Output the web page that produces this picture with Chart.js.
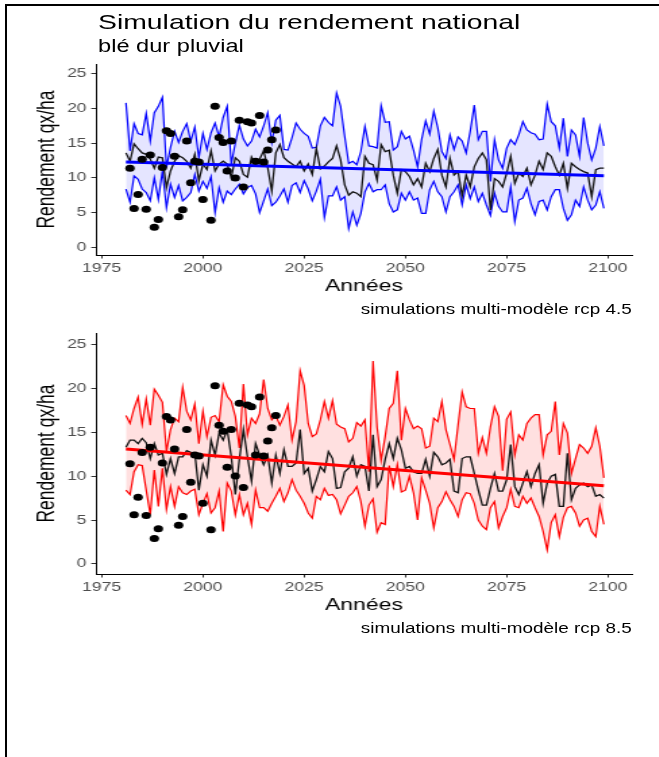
<!DOCTYPE html>
<html lang="fr">
<head>
<meta charset="utf-8">
<title>Simulation du rendement national</title>
<script src="https://cdn.jsdelivr.net/npm/chart.js@4.4.1/dist/chart.umd.min.js"></script>
<style>
  html, body { margin: 0; padding: 0; background: #fff; }
  body { width: 659px; height: 757px; overflow: hidden; position: relative; font-family: "Liberation Sans", Arial, sans-serif; }
  #frame { position: absolute; left: 5px; top: 4px; width: 700px; height: 800px; border-left: 2px solid #000; border-top: 2px solid #000; }
  /* the reference is stretched sideways, so the whole page is drawn narrow and widened */
  #page { position: absolute; left: 0; top: 0; width: 488px; height: 757px; transform: scaleX(1.35); transform-origin: 0 0; }
  .txt { position: absolute; white-space: nowrap; line-height: 1; color: #000; }
  canvas { position: absolute; left: 0; }
</style>
</head>
<body>
<div id="frame"></div>
<div id="page">
  <div class="txt" style="left:72.6px; top:11px; font-size:21px;">Simulation du rendement national</div>
  <div class="txt" style="left:72.6px; top:38px; font-size:17.5px;">blé dur pluvial</div>
  <canvas id="rcp45" width="488" height="247" style="top:50px"></canvas>
  <div class="txt" style="right:20px; top:302px; font-size:14px;">simulations multi-modèle rcp 4.5</div>
  <canvas id="rcp85" width="488" height="297" style="top:319px"></canvas>
  <div class="txt" style="right:20px; top:621px; font-size:14px;">simulations multi-modèle rcp 8.5</div>
</div>
<script>
// axes
const xTicks = [1975, 2000, 2025, 2050, 2075, 2100];
const yTicks = [0, 5, 10, 15, 20, 25];
const startYear = 1981;

// observed yields
const obsYears = [1982, 1983, 1984, 1985, 1986, 1987, 1988, 1989, 1990, 1991,
  1992, 1993, 1994, 1995, 1996, 1997, 1998, 1999, 2000, 2002,
  2003, 2004, 2005, 2006, 2007, 2008, 2009, 2010, 2011, 2012,
  2013, 2014, 2015, 2016, 2017, 2018];
const obsValues = [11.4, 5.6, 7.6, 12.7, 5.5, 13.3, 2.9, 4.0, 11.5, 16.8,
  16.4, 13.1, 4.4, 5.4, 15.3, 9.3, 12.4, 12.3, 6.9, 3.9,
  20.3, 15.8, 15.1, 11.0, 15.3, 10.0, 18.3, 8.7, 18.1, 17.9,
  12.4, 19.0, 12.3, 14.0, 15.5, 16.9];

// rcp 4.5, 1981-2099
const upper45 = [20.8, 13.9, 17.8, 16.4, 16.2, 19.3, 15.3, 19.4, 20.3, 21.6,
  11.5, 14.4, 16.7, 15.1, 16.7, 17.8, 15.3, 17.3, 12.9, 16.4,
  14.1, 16.5, 17.9, 15.9, 18.7, 20.3, 12.0, 15.0, 17.6, 15.6,
  14.6, 15.3, 17.0, 15.9, 17.5, 19.4, 15.1, 18.3, 19.0, 14.1,
  14.0, 15.8, 17.9, 17.0, 16.4, 16.0, 14.3, 14.4, 17.5, 18.7,
  18.0, 17.5, 22.2, 20.3, 16.0, 12.1, 12.4, 11.9, 13.8, 17.4,
  14.6, 14.5, 14.3, 20.4, 18.0, 18.1, 14.0, 14.5, 16.7, 15.6,
  16.0, 14.0, 11.6, 15.5, 18.2, 16.3, 19.6, 17.2, 13.8, 12.8,
  16.2, 14.1, 15.9, 15.3, 13.6, 16.7, 20.5, 15.5, 16.7, 16.7,
  9.5, 15.5, 12.6, 11.4, 14.3, 15.5, 14.8, 16.2, 18.1, 16.9,
  16.5, 16.3, 15.5, 15.6, 20.6, 18.1, 17.5, 14.3, 18.6, 13.1,
  16.9, 16.2, 13.1, 18.7, 15.0, 12.6, 14.3, 17.4, 14.6];
const mean45 = [13.6, 12.4, 14.9, 14.2, 13.6, 13.4, 12.7, 11.4, 13.0, 12.9,
  8.6, 11.0, 12.4, 13.2, 12.9, 12.4, 11.4, 13.4, 9.6, 12.0,
  11.2, 13.9, 11.0, 12.0, 12.4, 12.0, 10.0, 12.9, 12.4, 10.5,
  10.1, 13.0, 11.9, 12.7, 13.9, 11.5, 8.1, 13.6, 14.8, 12.9,
  12.4, 12.0, 11.6, 12.4, 11.0, 12.0, 10.5, 14.2, 11.3, 11.7,
  12.3, 12.8, 14.6, 12.6, 9.0, 7.5, 8.0, 7.8, 7.3, 13.1,
  12.1, 11.9, 9.7, 14.8, 13.8, 14.0, 10.4, 7.8, 11.2, 10.9,
  10.2, 9.0, 9.9, 8.7, 12.1, 10.9, 12.8, 14.1, 10.4, 8.7,
  12.8, 10.4, 10.9, 7.4, 10.4, 8.7, 11.6, 12.8, 13.6, 12.6,
  5.4, 9.9, 9.5, 8.7, 10.7, 13.1, 9.2, 10.7, 10.2, 11.4,
  9.0, 10.4, 12.4, 11.2, 13.6, 13.1, 11.6, 10.4, 12.1, 8.5,
  12.1, 11.6, 11.2, 10.9, 10.7, 7.3, 11.2, 11.4, 11.4];
const lower45 = [8.4, 6.5, 10.3, 9.8, 8.4, 7.9, 6.7, 10.0, 6.9, 11.0,
  5.7, 9.1, 7.2, 8.9, 6.7, 7.2, 7.9, 10.5, 8.1, 9.5,
  8.5, 10.2, 5.0, 8.6, 6.5, 8.1, 7.6, 8.4, 9.1, 7.7,
  8.6, 8.9, 7.7, 5.0, 6.7, 8.4, 6.0, 6.5, 7.4, 8.4,
  6.5, 8.9, 9.3, 7.9, 9.6, 8.4, 6.7, 8.1, 9.8, 4.3,
  7.4, 7.4, 8.7, 6.8, 7.3, 2.7, 5.1, 3.2, 4.9, 8.0,
  9.2, 8.0, 8.3, 8.3, 9.0, 6.3, 5.1, 5.4, 7.8, 6.8,
  8.0, 6.8, 7.1, 4.9, 4.9, 8.3, 9.5, 8.0, 7.3, 5.1,
  7.3, 8.0, 9.0, 6.1, 9.0, 7.0, 8.7, 6.6, 7.8, 6.1,
  4.6, 7.8, 5.9, 5.1, 5.1, 8.7, 3.7, 6.8, 7.1, 8.5,
  6.3, 4.7, 6.6, 6.8, 5.4, 7.3, 8.3, 8.3, 5.6, 3.9,
  4.7, 6.8, 5.9, 8.7, 6.8, 5.4, 6.1, 8.0, 5.6];
const trend45 = [12.3, 10.3];

// rcp 8.5, 1981-2099
const upper85 = [16.9, 16.0, 17.7, 19.0, 15.9, 18.8, 15.8, 19.9, 19.2, 18.4,
  12.8, 15.3, 16.6, 16.2, 20.1, 17.4, 16.4, 18.2, 13.7, 17.4,
  14.5, 16.7, 16.9, 16.2, 20.4, 19.1, 18.5, 16.8, 13.2, 20.5,
  14.7, 16.6, 16.0, 17.1, 21.0, 17.7, 16.4, 16.9, 15.8, 16.8,
  18.1, 14.1, 16.2, 22.0, 20.3, 16.0, 14.5, 14.8, 16.4, 18.5,
  16.6, 18.6, 15.9, 15.6, 15.4, 13.9, 14.3, 16.1, 15.7, 16.4,
  10.5, 23.1, 15.6, 11.8, 14.5, 17.7, 18.3, 22.0, 14.1, 17.7,
  16.4, 15.4, 15.7, 15.4, 13.2, 13.4, 16.6, 16.2, 18.5, 15.3,
  13.6, 11.9, 15.8, 19.6, 17.9, 17.7, 17.7, 12.6, 14.4, 12.6,
  15.6, 17.9, 16.8, 10.6, 16.5, 17.3, 12.4, 14.7, 14.1, 16.0,
  16.6, 17.0, 17.0, 12.4, 14.7, 15.1, 18.5, 12.4, 16.0, 14.9,
  10.3, 12.0, 13.6, 13.2, 12.6, 13.4, 15.5, 13.4, 9.8];
const mean85 = [13.3, 14.1, 14.1, 13.7, 14.3, 13.8, 12.0, 13.7, 12.4, 12.6,
  10.2, 12.0, 10.3, 12.2, 12.2, 12.9, 12.7, 12.6, 8.4, 11.3,
  10.0, 14.1, 12.4, 14.9, 14.1, 15.3, 12.2, 7.9, 11.9, 15.3,
  12.2, 9.4, 13.7, 12.4, 11.3, 12.4, 9.2, 12.4, 10.3, 13.0,
  11.1, 11.1, 11.5, 15.3, 10.3, 10.9, 8.3, 9.6, 11.1, 10.5,
  12.8, 12.0, 8.6, 8.7, 10.5, 10.9, 12.2, 10.0, 11.3, 11.1,
  8.3, 14.7, 8.8, 9.6, 11.9, 13.7, 12.0, 14.3, 13.0, 10.9,
  11.1, 10.5, 10.3, 10.3, 11.9, 10.0, 12.7, 12.2, 11.3, 11.5,
  11.9, 8.3, 8.1, 12.0, 12.2, 12.2, 10.3, 8.4, 6.7, 6.7,
  8.6, 10.3, 8.3, 8.3, 9.6, 13.6, 8.8, 7.9, 9.2, 10.5,
  8.8, 10.3, 11.3, 6.9, 9.2, 10.0, 10.2, 6.55, 6.55, 12.6,
  7.3, 8.6, 9.0, 9.2, 8.8, 9.0, 7.7, 7.9, 7.5];
const lower85 = [8.4, 7.9, 10.5, 11.3, 11.2, 8.4, 5.6, 10.7, 6.55, 10.9,
  6.2, 8.8, 6.55, 8.8, 8.1, 7.9, 8.3, 8.5, 5.6, 6.9,
  8.0, 5.8, 6.4, 8.3, 3.7, 9.2, 8.3, 5.6, 7.9, 5.6,
  6.9, 4.5, 8.4, 6.4, 6.4, 6.0, 6.9, 7.7, 8.6, 7.1,
  8.1, 9.6, 8.4, 7.7, 6.9, 5.8, 5.2, 7.7, 7.3, 8.6,
  7.8, 7.9, 7.3, 5.7, 6.7, 7.7, 8.1, 8.8, 7.1, 4.3,
  6.7, 7.4, 3.6, 4.7, 4.5, 11.2, 8.8, 11.3, 8.2, 8.4,
  10.0, 8.1, 5.0, 9.8, 8.4, 6.9, 4.1, 6.4, 7.1, 8.2,
  7.3, 6.55, 5.4, 7.3, 8.1, 8.0, 6.9, 5.0, 4.3, 3.9,
  6.4, 7.1, 4.1, 5.4, 6.4, 8.5, 6.55, 6.4, 7.7, 6.9,
  7.5, 6.4, 5.4, 3.7, 1.6, 4.7, 5.6, 3.1, 5.3, 6.4,
  6.55, 5.8, 4.3, 5.0, 5.2, 3.7, 3.1, 6.55, 4.5];
const trend85 = [13.1, 8.9];

Chart.defaults.font.family = "'Liberation Sans', Arial, sans-serif";

function toPoints(values) {
  return values.map((v, i) => ({ x: startYear + i, y: v }));
}

function makePanel(id, upper, mean, lower, trend, color, fillColor, yMin, yMax) {
  const lastYear = startYear + mean.length - 1;
  const obs = obsYears.map((yr, i) => ({ x: yr, y: obsValues[i] }));
  new Chart(document.getElementById(id), {
    type: 'line',
    data: {
      datasets: [
        { data: obs, showLine: false, pointRadius: 3.5, pointBorderWidth: 0,
          pointBackgroundColor: '#000', order: 0 },
        { data: [{ x: startYear, y: trend[0] }, { x: lastYear, y: trend[1] }],
          borderColor: color, borderWidth: 3, pointRadius: 0, order: 1 },
        { data: toPoints(mean), borderColor: '#111', borderWidth: 1.3, pointRadius: 0, order: 2 },
        { data: toPoints(upper), borderColor: color, borderWidth: 1.2, pointRadius: 0,
          fill: '+1', backgroundColor: fillColor, order: 4 },
        { data: toPoints(lower), borderColor: color, borderWidth: 1.2, pointRadius: 0,
          fill: false, order: 3 }
      ]
    },
    options: {
      responsive: false,
      animation: false,
      events: [],
      layout: { padding: { top: 14, right: 20, left: 0, bottom: 0 } },
      plugins: { legend: { display: false }, tooltip: { enabled: false } },
      elements: { line: { tension: 0 } },
      scales: {
        x: {
          type: 'linear', min: 1973.6, max: 2105.9,
          afterBuildTicks: s => { s.ticks = xTicks.map(v => ({ value: v })); },
          afterFit: s => { s.height = 42; },
          ticks: { color: '#4d4d4d', font: { size: 13 }, padding: 2, maxRotation: 0,
                   autoSkip: false, callback: v => String(v) },
          grid: { drawOnChartArea: false, drawTicks: true, tickLength: 3.5, color: '#333' },
          border: { display: true, color: '#000', width: 1 },
          title: { display: true, text: 'Années', color: '#000', font: { size: 17 }, padding: 0 }
        },
        y: {
          type: 'linear', min: yMin, max: yMax,
          afterBuildTicks: s => { s.ticks = yTicks.map(v => ({ value: v })); },
          afterFit: s => { s.width = 71.1; },
          ticks: { color: '#4d4d4d', font: { size: 13 }, padding: 3.5, callback: v => String(v) },
          grid: { drawOnChartArea: false, drawTicks: true, tickLength: 3.5, color: '#333' },
          border: { display: true, color: '#000', width: 1 },
          title: { display: true, text: 'Rendement qx/ha', color: '#000', font: { size: 17.5 },
                   padding: { top: 25, bottom: 0 } }
        }
      }
    }
  });
}

makePanel('rcp45', upper45, mean45, lower45, trend45, '#0000ff', 'rgba(0,0,255,0.1)', -1.1, 26.4);
makePanel('rcp85', upper85, mean85, lower85, trend85, '#ff0000', 'rgba(255,0,0,0.12)', -1.15, 26.3);
</script>
</body>
</html>
